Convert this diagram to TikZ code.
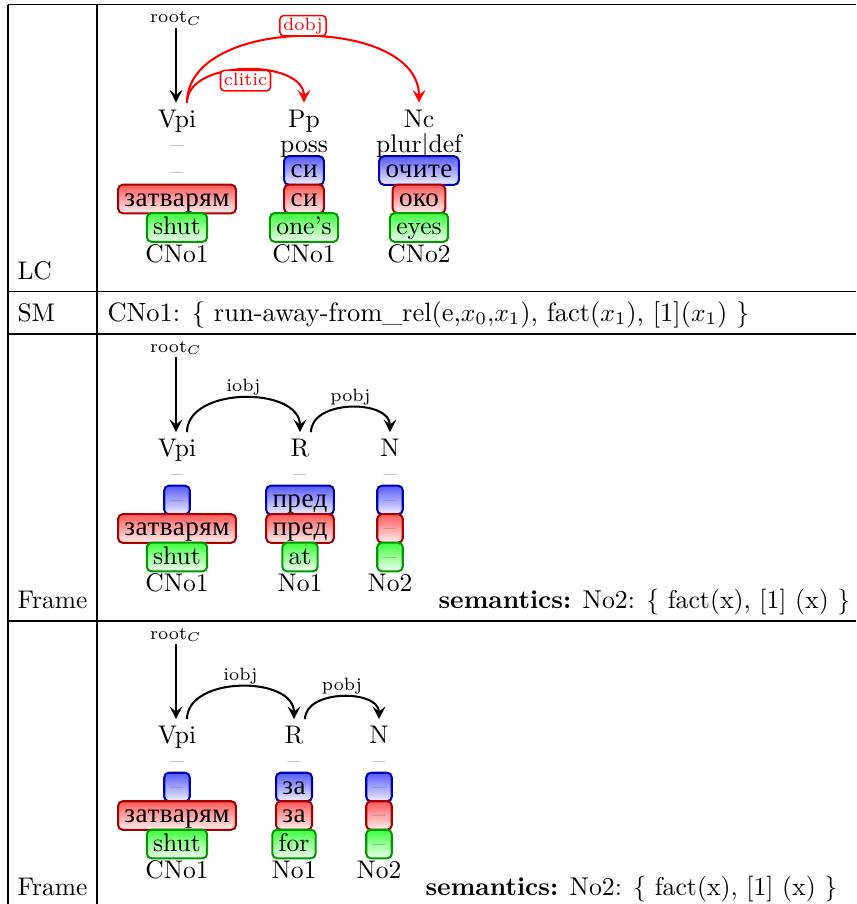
\documentclass[tikz,border=0pt]{standalone}
\usepackage{fontspec}
\newfontfamily\cyfont[Scale=1.06,LetterSpace=2]{Liberation Serif}
\usetikzlibrary{arrows.meta,calc}
\newcommand\cy[1]{{\cyfont #1}}
\tikzset{
  txt/.style={inner sep=0pt},
  word/.style={inner sep=2.5pt, text height=6.83pt, text depth=1.94pt, anchor=base},
  dsh/.style={inner sep=0pt, anchor=base, text=black!45},
  bx/.style={rounded corners=1.8pt, line width=0.8pt, inner xsep=2.5pt, inner ysep=1.5pt, text height=7pt, text depth=1.2pt},
  bbox/.style={bx, draw=blue!70!black, top color=blue!65, bottom color=blue!6},
  rbox/.style={bx, draw=red!65!black, top color=red!65, bottom color=red!6},
  gbox/.style={bx, draw=green!60!black, top color=green!75, bottom color=green!6},
  arr/.style={-{Stealth[length=5pt,width=5pt,inset=2pt]}, line width=0.8pt},
  lbl/.style={font=\scriptsize, inner sep=0.5pt, anchor=south},
  rlbl/.style={font=\scriptsize, text=red, draw=red, fill=white, rounded corners=1.5pt, line width=0.6pt, inner xsep=1.3pt, inner ysep=0.8pt, text height=5pt, text depth=1.4pt},
  rootn/.style={font=\scriptsize, inner sep=1pt, anchor=base, text depth=0.8pt},
  tbl/.style={line width=0.5pt}
}
\begin{document}
\begin{tikzpicture}[x=0.3922pt, y=-0.3922pt]
\useasboundingbox (0,0) rectangle (856,904);
% table
\draw[tbl] (8,4.7) -- (856,4.7);
\draw[tbl] (8,291.5) -- (856,291.5);
\draw[tbl] (8,334) -- (856,334);
\draw[tbl] (8,621) -- (856,621);
\draw[tbl] (8,4.7) -- (8,904);
\draw[tbl] (97,4.7) -- (97,904);
\node[txt, anchor=base west] (lc) at (17,279) {LC};
\node[txt, anchor=base west] (sm) at (17,321) {SM};
\node[txt, anchor=base west, font=\fontsize{10.37pt}{12pt}\selectfont] (smtext) at (107,321) {CNo1: \{ run-away-from\_rel(e,$x_0$,$x_1$), fact($x_1$), [1]($x_1$) \}};
\node[txt, anchor=base west] (fr1) at (17,608) {Frame};
\node[txt, anchor=base west, font=\fontsize{10.1pt}{12pt}\selectfont] (sem1) at (438,608) {\textbf{semantics:} No2: \{ fact(x), [1] (x) \}};
\node[txt, anchor=base west] (fr2) at (17,895) {Frame};
\node[txt, anchor=base west, font=\fontsize{10.1pt}{12pt}\selectfont] (sem2) at (425,895) {\textbf{semantics:} No2: \{ fact(x), [1] (x) \}};

% ---------- row 1 (LC)
\node[rootn] (r1) at (176,22.5) {root$_C$};
\node[word] (v1) at (177,127) {Vpi};
\node[word] (p1) at (304,127) {Pp};
\node[word] (n1) at (419,127) {Nc};
\node[dsh] (v1a) at (177,152) {\textendash};
\node[dsh] (v1b) at (177,179) {\textendash};
\node[txt, anchor=base] (p1a) at (304,152) {poss};
\node[txt, anchor=base] (n1a) at (419,152) {plur|def};
\node[rbox] (v1r) at (177,199) {\cy{затварям}};
\node[gbox] (v1g) at (177,227.5) {shut};
\node[bbox] (p1b) at (304,170.5) {\cy{си}};
\node[rbox] (p1r) at (304,199) {\cy{си}};
\node[gbox] (p1g) at (304,227.5) {one's};
\node[bbox] (n1b) at (419,170.5) {\cy{очите}};
\node[rbox] (n1r) at (419,199) {\cy{око}};
\node[gbox] (n1g) at (419,227.5) {eyes};
\node[txt, anchor=base] (v1c) at (177,262) {CNo1};
\node[txt, anchor=base] (p1c) at (304,262) {CNo1};
\node[txt, anchor=base] (n1c) at (419,262) {CNo2};
\draw[arr] (r1.south) -- (r1.south |- v1.north);
\draw[arr, red] ($(v1.north)+(10,0)$) .. controls +(0,-44) and +(0,-44) .. (p1.north)
  node[rlbl, midway, anchor=north] (l1) {clitic};
\draw[arr, red] ($(v1.north)+(10,0)$) .. controls +(0,-88) and +(0,-88) .. (n1.north)
  node[rlbl, midway, anchor=south] (l2) {dobj};

% ---------- row 3 (Frame)
\node[rootn] (r3) at (176,352) {root$_C$};
\node[word] (v3) at (177,456.5) {Vpi};
\node[word] (q3) at (300,456.5) {R};
\node[word] (m3) at (390,456.5) {N};
\node[dsh] (v3a) at (177,481.5) {\textendash};
\node[dsh] (q3a) at (300,481.5) {\textendash};
\node[dsh] (m3a) at (390,481.5) {\textendash};
\node[bbox] (v3b) at (177,500) {\textcolor{black!45}{\textendash}};
\node[rbox] (v3r) at (177,528.5) {\cy{затварям}};
\node[gbox] (v3g) at (177,557) {shut};
\node[bbox] (q3b) at (300,500) {\cy{пред}};
\node[rbox] (q3r) at (300,528.5) {\cy{пред}};
\node[gbox] (q3g) at (300,557) {at};
\node[bbox] (m3b) at (390,500) {\textcolor{black!45}{\textendash}};
\node[rbox] (m3r) at (390,528.5) {\textcolor{black!45}{\textendash}};
\node[gbox] (m3g) at (390,557) {\textcolor{black!45}{\textendash}};
\node[txt, anchor=base] (v3c) at (177,591.5) {CNo1};
\node[txt, anchor=base] (q3c) at (300,591.5) {No1};
\node[txt, anchor=base] (m3c) at (390,591.5) {No2};
\draw[arr] (r3.south) -- (r3.south |- v3.north);
\draw[arr] ($(v3.north)+(10,0)$) .. controls +(0,-46) and +(0,-46) .. (q3.north)
  node[lbl, midway] (l3) {iobj};
\draw[arr] ($(q3.north)+(11,0)$) .. controls +(0,-33) and +(0,-33) .. (m3.north)
  node[lbl, midway] (l4) {pobj};

% ---------- row 4 (Frame)
\node[rootn] (r4) at (176,639) {root$_C$};
\node[word] (v4) at (177,743.5) {Vpi};
\node[word] (q4) at (294,743.5) {R};
\node[word] (m4) at (379,743.5) {N};
\node[dsh] (v4a) at (177,768.5) {\textendash};
\node[dsh] (q4a) at (294,768.5) {\textendash};
\node[dsh] (m4a) at (379,768.5) {\textendash};
\node[bbox] (v4b) at (177,787) {\textcolor{black!45}{\textendash}};
\node[rbox] (v4r) at (177,815.5) {\cy{затварям}};
\node[gbox] (v4g) at (177,844) {shut};
\node[bbox] (q4b) at (294,787) {\cy{за}};
\node[rbox] (q4r) at (294,815.5) {\cy{за}};
\node[gbox] (q4g) at (294,844) {for};
\node[bbox] (m4b) at (379,787) {\textcolor{black!45}{\textendash}};
\node[rbox] (m4r) at (379,815.5) {\textcolor{black!45}{\textendash}};
\node[gbox] (m4g) at (379,844) {\textcolor{black!45}{\textendash}};
\node[txt, anchor=base] (v4c) at (177,878.5) {CNo1};
\node[txt, anchor=base] (q4c) at (294,878.5) {No1};
\node[txt, anchor=base] (m4c) at (379,878.5) {No2};
\draw[arr] (r4.south) -- (r4.south |- v4.north);
\draw[arr] ($(v4.north)+(10,0)$) .. controls +(0,-43.6) and +(0,-43.6) .. (q4.north)
  node[lbl, midway] (l5) {iobj};
\draw[arr] ($(q4.north)+(11,0)$) .. controls +(0,-30) and +(0,-30) .. (m4.north)
  node[lbl, midway] (l6) {pobj};
\end{tikzpicture}
\end{document}
